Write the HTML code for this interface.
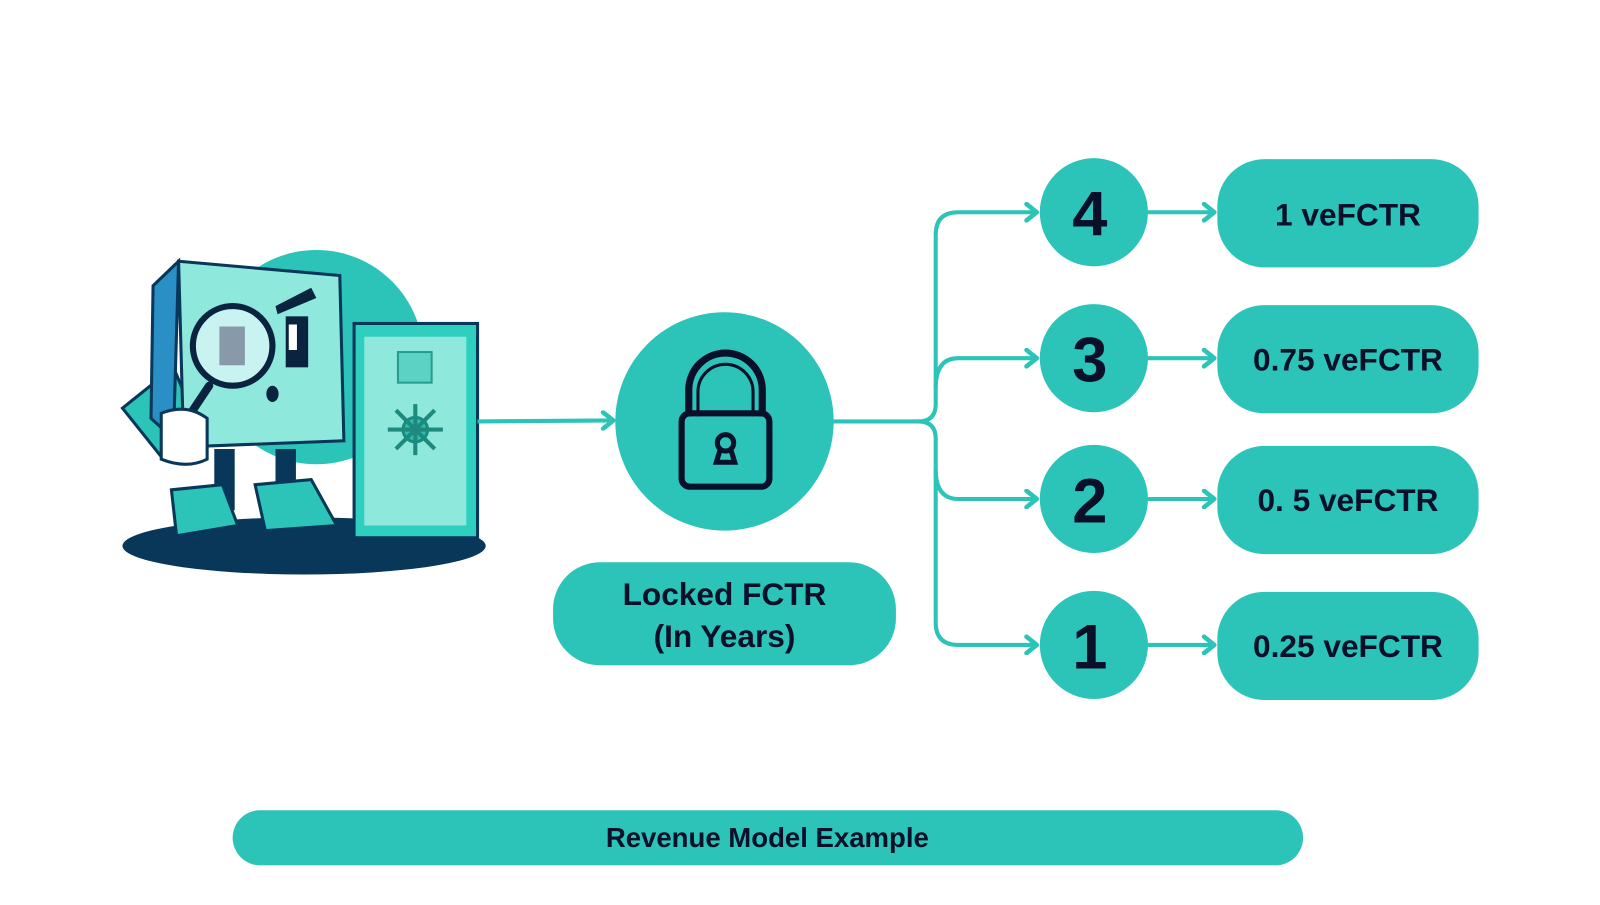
<!DOCTYPE html>
<html><head><style>
body{margin:0;width:1600px;height:900px;background:#fff;overflow:hidden;font-family:"Liberation Sans",sans-serif}
</style></head><body>
<svg width="1600" height="900" viewBox="0 0 1568 882" xmlns="http://www.w3.org/2000/svg">
<defs><marker id="a" markerWidth="16" markerHeight="20" refX="13" refY="10" orient="auto" markerUnits="userSpaceOnUse">
<path d="M3 2 L13 10 L3 18" fill="none" stroke="#2cc4b8" stroke-width="4.5" stroke-linecap="round" stroke-linejoin="round"/></marker></defs>
<g font-family="Liberation Sans, sans-serif" font-weight="bold" fill="#0a0f2a">
<!-- mascot -->
<ellipse cx="298" cy="535" rx="178" ry="28" fill="#08375a"/>
<circle cx="310" cy="350" r="105" fill="#2cc4b8"/>
<rect x="347" y="317" width="121" height="210" fill="#2fcfc0" stroke="#08375a" stroke-width="3"/>
<rect x="357" y="330" width="100" height="185" fill="#8fe8dc"/>
<rect x="390" y="345" width="33" height="30" fill="#5bd2c3" stroke="#2a9a8e" stroke-width="2"/>
<circle cx="407" cy="421" r="12" fill="#2bbfae" stroke="#1d8a7d" stroke-width="3"/>
<path d="M380 421h54M407 396v50M388 402l38 38M426 402l-38 38" stroke="#1d8a7d" stroke-width="4"/>
<path d="M120 400 L170 360 L195 420 L160 450 Z" fill="#2cc4b8" stroke="#08375a" stroke-width="3"/>
<path d="M150 280 L175 256 L170 430 L148 410 Z" fill="#2a8fc4" stroke="#08375a" stroke-width="3"/>
<path d="M175 256 L333 270 L337 432 L180 438 Z" fill="#8fe8dc" stroke="#08375a" stroke-width="3"/>
<path d="M210 440 h20 v60 h-20z M270 440 h20 v60 h-20z" fill="#08375a"/>
<path d="M168 480 l50 -5 l15 40 l-60 10z M250 475 l55 -5 l25 45 l-70 5z" fill="#2cc4b8" stroke="#08375a" stroke-width="3"/>
<circle cx="228" cy="339" r="39" fill="#c8f3f0" stroke="#0a2440" stroke-width="6"/>
<path d="M215 320 h25 v38 h-25z" fill="#8899aa"/>
<path d="M205 378 L185 408" stroke="#0a2440" stroke-width="8" stroke-linecap="round"/>
<path d="M158 405 q25 -10 45 5 l0 40 q-20 10 -45 0z" fill="#fff" stroke="#08375a" stroke-width="3"/>
<rect x="280" y="310" width="22" height="50" fill="#0a2440"/>
<rect x="283" y="318" width="8" height="25" fill="#fff"/>
<path d="M270 300 L305 282 L310 292 L272 308Z" fill="#0a2440"/>
<ellipse cx="267" cy="386" rx="6" ry="8" fill="#0a2440"/>
<!-- connectors -->
<path d="M468 413 L601 412" stroke="#2cc4b8" stroke-width="4" fill="none" marker-end="url(#a)"/>
<path d="M816 413 H900 Q917 413 917 396 V230 Q917 208 939 208 H1016" stroke="#2cc4b8" stroke-width="4" fill="none" marker-end="url(#a)"/>
<path d="M917 380 Q917 351 939 351 H1016" stroke="#2cc4b8" stroke-width="4" fill="none" marker-end="url(#a)"/>
<path d="M900 413 Q917 413 917 430 V610 Q917 632 939 632 H1016" stroke="#2cc4b8" stroke-width="4" fill="none" marker-end="url(#a)"/>
<path d="M917 460 Q917 489 939 489 H1016" stroke="#2cc4b8" stroke-width="4" fill="none" marker-end="url(#a)"/>
<g stroke="#2cc4b8" stroke-width="4" fill="none" marker-end="url(#a)">
<path d="M1124 208 H1190"/><path d="M1124 351 H1190"/><path d="M1124 489 H1190"/><path d="M1124 632 H1190"/></g>
<!-- lock -->
<circle cx="710" cy="413" r="107" fill="#2cc4b8"/>
<path d="M675 408 V382 a36 36 0 0 1 72 0 V408" fill="none" stroke="#0a0f2a" stroke-width="7"/>
<path d="M684 408 V384 a27 27 0 0 1 54 0 V408" fill="none" stroke="#0a0f2a" stroke-width="3"/>
<rect x="668" y="405" width="86" height="72" rx="8" fill="none" stroke="#0a0f2a" stroke-width="6"/>
<circle cx="711" cy="434" r="8" fill="none" stroke="#0a0f2a" stroke-width="5"/>
<path d="M706 440 L702 453 H720 L716 440" fill="none" stroke="#0a0f2a" stroke-width="5"/>
<rect x="542" y="551" width="336" height="101" rx="46" fill="#2cc4b8"/>
<text x="710" y="593" font-size="31" text-anchor="middle">Locked FCTR</text>
<text x="710" y="634" font-size="31" text-anchor="middle">(In Years)</text>
<!-- numbers -->
<g fill="#2cc4b8"><circle cx="1072" cy="208" r="53"/><circle cx="1072" cy="351" r="53"/><circle cx="1072" cy="489" r="53"/><circle cx="1072" cy="632" r="53"/>
<rect x="1193" y="156" width="256" height="106" rx="46"/><rect x="1193" y="299" width="256" height="106" rx="46"/><rect x="1193" y="437" width="256" height="106" rx="46"/><rect x="1193" y="580" width="256" height="106" rx="46"/>
<rect x="228" y="794" width="1049" height="54" rx="27"/></g>
<g font-size="62" text-anchor="middle"><text x="1068" y="231">4</text><text x="1068" y="374">3</text><text x="1068" y="512">2</text><text x="1068" y="655">1</text></g>
<g font-size="31" text-anchor="middle"><text x="1321" y="221">1 veFCTR</text><text x="1321" y="363">0.75 veFCTR</text><text x="1321" y="501">0. 5 veFCTR</text><text x="1321" y="644">0.25 veFCTR</text></g>
<text x="752" y="830" font-size="27" text-anchor="middle">Revenue Model Example</text>
</g>
</svg>
</body></html>
